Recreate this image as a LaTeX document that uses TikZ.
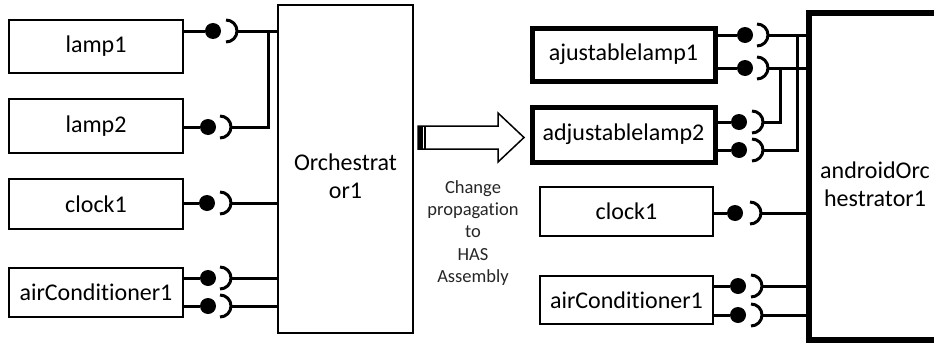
\documentclass[tikz,border=0pt]{standalone}
\usepackage{fontspec}
\setmainfont[Ligatures=NoCommon]{Carlito}
\begin{document}
\begin{tikzpicture}[x=1pt,y=-1pt,
  box/.style={draw, line width=2.2pt, inner sep=0pt, font=\fontsize{24}{28}\selectfont},
  thickbox/.style={box, line width=5pt},
  ball/.style={circle, fill=black, inner sep=0pt, minimum size=16pt},
  wire/.style={line width=3pt},
  sockarc/.style={line width=3pt},
  bigtext/.style={font=\fontsize{24}{28}\selectfont, align=center, inner sep=0pt},
  smalltext/.style={font=\fontsize{18.5}{22.3}\selectfont, align=center, inner sep=0pt, text=black!85},
  ]
\clip (0,0) rectangle (934,343);
\fill[white] (0,0) rectangle (934,343);

% ---------- left side ----------
\node[box, minimum width=174pt, minimum height=53pt] (lamp1) at (96,46.5) {lamp1};
\node[box, minimum width=174pt, minimum height=54pt] (lamp2) at (96,126) {lamp2};
\node[box, minimum width=174pt, minimum height=50pt] (clockL) at (96,204) {clock1};
\node[box, minimum width=174pt, minimum height=49pt] (airL) at (96,292.5) {airConditioner1};
\node[box, minimum width=135pt, minimum height=328pt] (orch) at (345.5,169) {};
\node[bigtext] (orchtxt) at (345.5,176) {Orchestrat\\or1};

% balls and sockets (left)
\node[ball] (lb1) at (213,31) {};
\node[ball] (lb2) at (208,127) {};
\node[ball] (lb3) at (207,203) {};
\node[ball] (lb4) at (208,278) {};
\node[ball] (lb5) at (208,306) {};
\coordinate (ls1) at (226,31);
\coordinate (ls2) at (220,127);
\coordinate (ls3) at (220,203);
\coordinate (ls4) at (220,278);
\coordinate (ls5) at (220,306);
\foreach \s in {ls1,ls2,ls3,ls4,ls5}{
  \draw[sockarc] ([yshift=11pt]\s) arc[start angle=90,end angle=-90,radius=11pt];
}
\coordinate (lj) at (268,127);

\draw[wire] (lamp1.east|-lb1) -- (lb1);
\draw[wire] (lamp2.east|-lb2) -- (lb2);
\draw[wire] (clockL.east|-lb3) -- (lb3);
\draw[wire] (airL.east|-lb4) -- (lb4);
\draw[wire] (airL.east|-lb5) -- (lb5);
\draw[wire] ([xshift=11pt]ls1) -- (orch.west|-ls1);
\draw[wire] ([xshift=11pt]ls2) -- (lj) -- (lj|-ls1);
\draw[wire] ([xshift=11pt]ls3) -- (orch.west|-ls3);
\draw[wire] ([xshift=11pt]ls4) -- (orch.west|-ls4);
\draw[wire] ([xshift=11pt]ls5) -- (orch.west|-ls5);

% ---------- arrow ----------
\draw[line width=1.5pt, line join=miter] (418,126) -- (498,126) -- (498,113) -- (524,137.5) -- (498,162) -- (498,149) -- (418,149) -- cycle;
\fill (418,126) rectangle (422.5,149);
\draw[line width=2pt] (425,126) -- (425,149);
\node[smalltext] (change) at (473,233) {Change\\propagation\\to\\HAS\\Assembly};

% ---------- right side ----------
\node[thickbox, minimum width=183pt, minimum height=53pt] (ajl1) at (623.5,54.5) {ajustablelamp1};
\node[thickbox, minimum width=183pt, minimum height=55pt] (ajl2) at (623.5,134.5) {adjustablelamp2};
\node[box, minimum width=173pt, minimum height=49pt] (clockR) at (626.5,211.5) {clock1};
\node[box, minimum width=173pt, minimum height=48pt] (airR) at (626.5,300) {airConditioner1};
\node[minimum width=151pt, minimum height=327pt, inner sep=0pt] (android) at (884.5,176.5) {};
\draw[line width=5.5pt] (android.north east) -- (android.north west) -- (android.south west) -- (android.south east);
\node[bigtext] (androidtxt) at (875,184) {androidOrc\\hestrator1};

\node[ball] (rb1) at (745,35) {};
\node[ball] (rb2) at (745,68) {};
\node[ball] (rb3) at (739,122) {};
\node[ball] (rb4) at (739,150) {};
\node[ball] (rb5) at (735,213) {};
\node[ball] (rb6) at (738,286) {};
\node[ball] (rb7) at (738,315) {};
\coordinate (rs1) at (757,35);
\coordinate (rs2) at (757,68);
\coordinate (rs3) at (752,122);
\coordinate (rs4) at (752,150);
\coordinate (rs5) at (750,213);
\coordinate (rs6) at (751,286);
\coordinate (rs7) at (751,315);
\foreach \s in {rs1,rs2,rs3,rs4,rs5,rs6,rs7}{
  \draw[sockarc] ([yshift=11pt]\s) arc[start angle=90,end angle=-90,radius=11pt];
}
\coordinate (rj1) at (780,122);
\coordinate (rj2) at (797,150);

\draw[wire] (ajl1.east|-rb1) -- (rb1);
\draw[wire] (ajl1.east|-rb2) -- (rb2);
\draw[wire] (ajl2.east|-rb3) -- (rb3);
\draw[wire] (ajl2.east|-rb4) -- (rb4);
\draw[wire] (clockR.east|-rb5) -- (rb5);
\draw[wire] (airR.east|-rb6) -- (rb6);
\draw[wire] (airR.east|-rb7) -- (rb7);
\draw[wire] ([xshift=11pt]rs1) -- (android.west|-rs1);
\draw[wire] ([xshift=11pt]rs2) -- (android.west|-rs2);
\draw[wire] ([xshift=11pt]rs3) -- (rj1) -- (rj1|-rs2);
\draw[wire] ([xshift=11pt]rs4) -- (rj2) -- (rj2|-rs1);
\draw[wire] ([xshift=11pt]rs5) -- (android.west|-rs5);
\draw[wire] ([xshift=11pt]rs6) -- (android.west|-rs6);
\draw[wire] ([xshift=11pt]rs7) -- (android.west|-rs7);
\end{tikzpicture}
\end{document}
